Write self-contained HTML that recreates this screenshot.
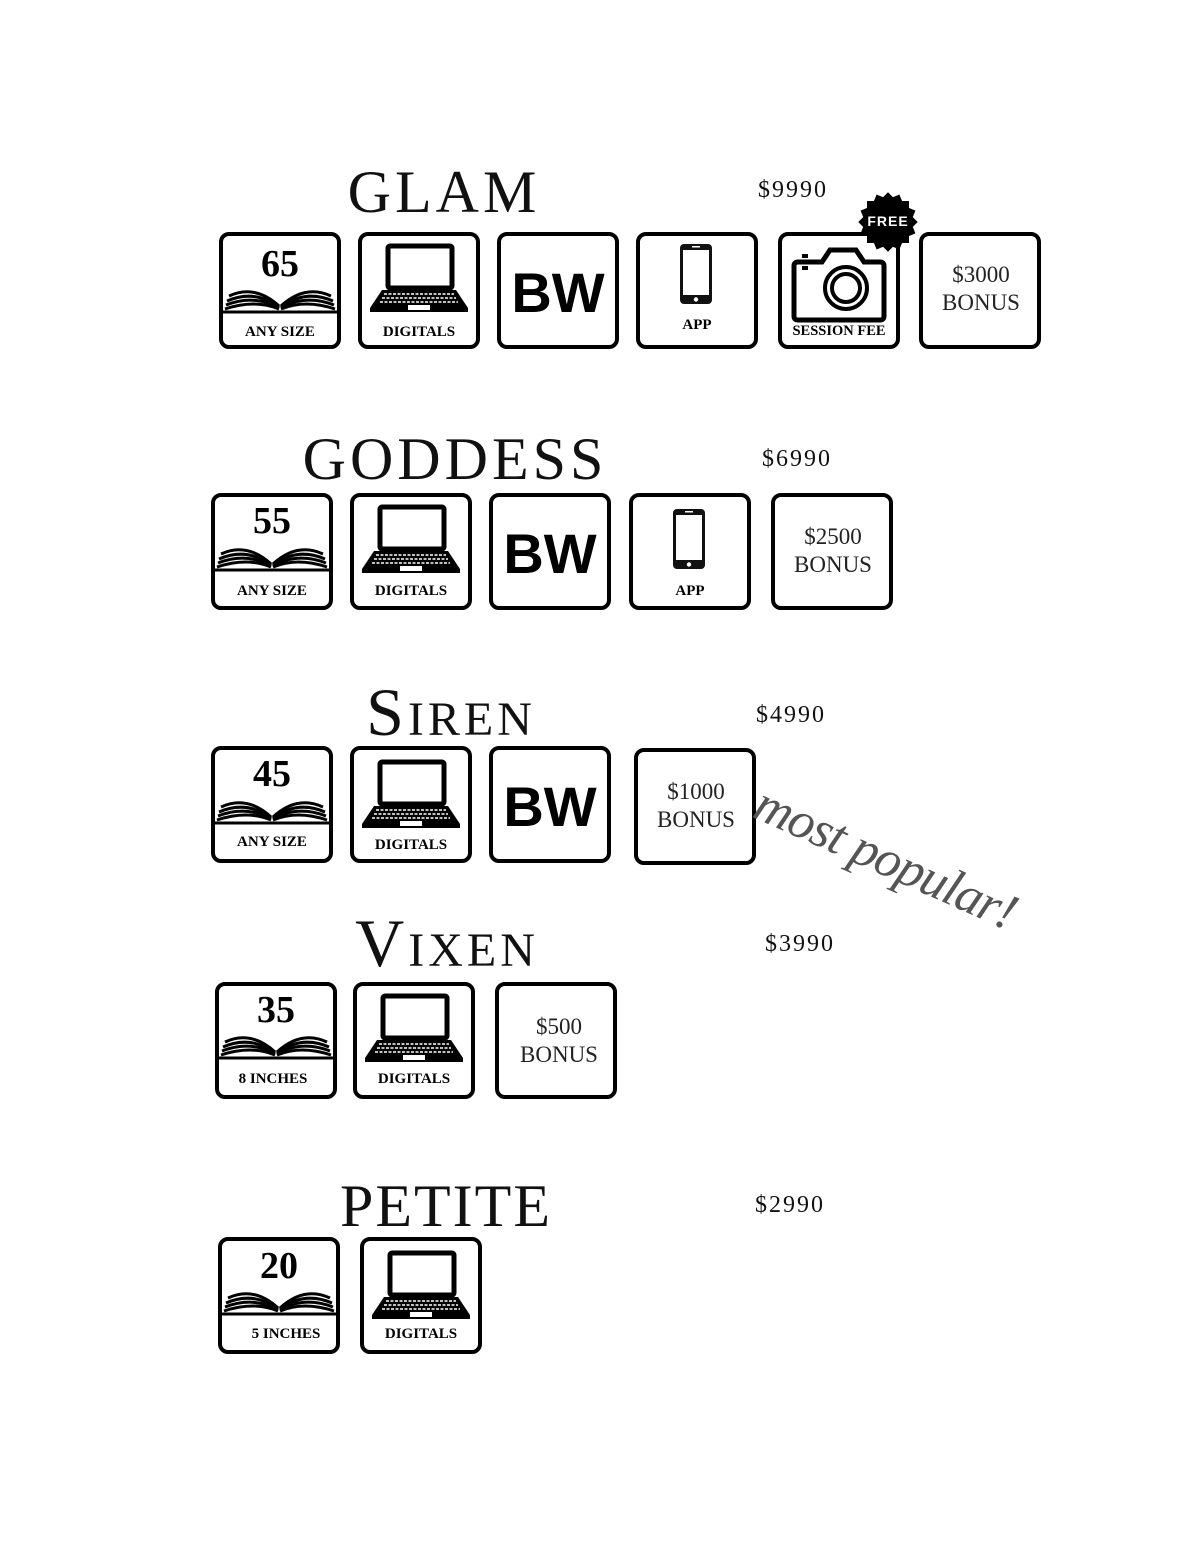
<!DOCTYPE html>
<html><head><meta charset="utf-8"><style>
body{margin:0;background:#fff;}
#p{position:relative;width:1200px;height:1553px;background:#fff;overflow:hidden;font-family:"Liberation Serif",serif;}
.t{position:absolute;width:600px;text-align:center;font-size:60px;line-height:60px;letter-spacing:4px;color:#111;}
.t2{font-size:68px;line-height:68px;font-variant:small-caps;letter-spacing:4px;}
.pr{position:absolute;font-size:24px;line-height:22px;letter-spacing:2px;color:#111;}
.b{position:absolute;width:122px;height:117px;}
.b svg{width:122px;height:117px;display:block}
.sq{position:absolute;left:867px;top:201px;width:42px;height:42px;background:#000;}
</style></head><body><div id="p">
<svg width="0" height="0" style="position:absolute">
<defs>
<g id="frame"><rect x="2" y="2" width="118" height="113" rx="8" fill="#fff" stroke="#000" stroke-width="4"/></g>
<g id="book" fill="none" stroke="#000" stroke-width="3">
<path d="M60,74 Q36,52 10,64"/><path d="M60,75 Q36,57 8,69"/><path d="M60,76 Q36,62 7,73"/><path d="M60,77 Q36,67 6,77"/>
<path d="M62,74 Q86,52 112,64"/><path d="M62,75 Q86,57 114,69"/><path d="M62,76 Q86,62 115,73"/><path d="M62,77 Q86,67 116,77"/>
<line x1="2" y1="80" x2="120" y2="80"/>
</g>
<g id="laptop">
<rect x="30" y="14" width="64" height="42" rx="2" fill="none" stroke="#000" stroke-width="5"/>
<polygon points="24,58 98,58 110,76 12,76" fill="#000"/>
<rect x="12" y="76" width="98" height="4" fill="#000"/>
<g stroke="#fff" stroke-width="1.5" stroke-dasharray="3 1.5"><line x1="26" y1="62" x2="96" y2="62"/><line x1="24" y1="66" x2="98" y2="66"/><line x1="22" y1="70" x2="100" y2="70"/></g>
<rect x="50" y="73" width="22" height="5" fill="#fff"/>
</g>
<g id="phone"><rect x="44" y="12" width="32" height="60" rx="4" fill="#111"/><rect x="47" y="18" width="26" height="45" fill="#fff"/><circle cx="60" cy="67.5" r="2.2" fill="#fff"/><rect x="56" y="14" width="8" height="1.5" fill="#fff"/></g>
</defs></svg>

<div class="t" style="left:144px;top:162px">GLAM</div>
<div class="t" style="left:155px;top:429px">GODDESS</div>
<div class="t t2" style="left:151px;top:678px">Siren</div>
<div class="t t2" style="left:147px;top:909px">Vixen</div>
<div class="t" style="left:146px;top:1176px;letter-spacing:2px">PETITE</div>

<div class="pr" style="left:758px;top:179px">$9990</div>
<div class="pr" style="left:762px;top:448px">$6990</div>
<div class="pr" style="left:756px;top:704px">$4990</div>
<div class="pr" style="left:765px;top:933px">$3990</div>
<div class="pr" style="left:755px;top:1194px">$2990</div>

<!-- GLAM row -->
<div class="b" style="left:219px;top:232px"><svg viewBox="0 0 122 117"><use href="#frame"/><text x="61" y="44" text-anchor="middle" font-size="38" font-weight="bold" font-family="Liberation Serif">65</text><use href="#book"/><text x="61" y="104" text-anchor="middle" font-size="15" font-weight="bold" font-family="Liberation Serif">ANY SIZE</text></svg></div>
<div class="b" style="left:358px;top:232px"><svg viewBox="0 0 122 117"><use href="#frame"/><use href="#laptop"/><text x="61" y="104" text-anchor="middle" font-size="15" font-weight="bold" font-family="Liberation Serif">DIGITALS</text></svg></div>
<div class="b" style="left:497px;top:232px"><svg viewBox="0 0 122 117"><use href="#frame"/><text x="61" y="80" text-anchor="middle" font-size="56" font-weight="bold" font-family="Liberation Sans">BW</text></svg></div>
<div class="b" style="left:636px;top:232px"><svg viewBox="0 0 122 117"><use href="#frame"/><use href="#phone"/><text x="61" y="97" text-anchor="middle" font-size="15" font-weight="bold" font-family="Liberation Serif">APP</text></svg></div>
<div class="b" style="left:778px;top:232px"><svg viewBox="0 0 122 117"><use href="#frame"/>
<path d="M20,30 H44 L52,18 H78 L86,30 H102 Q106,30 106,34 V84 Q106,88 102,88 H20 Q16,88 16,84 V34 Q16,30 20,30 Z" fill="none" stroke="#000" stroke-width="5"/>
<circle cx="68" cy="56" r="21" fill="none" stroke="#000" stroke-width="4"/><circle cx="68" cy="56" r="14" fill="none" stroke="#000" stroke-width="4"/>
<line x1="24" y1="24" x2="30" y2="24" stroke="#000" stroke-width="4"/><line x1="24" y1="36" x2="30" y2="36" stroke="#000" stroke-width="4"/>
<text x="61" y="103" text-anchor="middle" font-size="14.5" font-weight="bold" font-family="Liberation Serif">SESSION FEE</text></svg></div>
<div class="sq"></div><div class="sq" style="transform:rotate(22.5deg)"></div><div class="sq" style="transform:rotate(45deg)"></div><div class="sq" style="transform:rotate(67.5deg)"></div>
<div style="position:absolute;left:858px;top:213px;width:60px;text-align:center;color:#fff;font-family:'Liberation Sans',sans-serif;font-weight:bold;font-size:14px;line-height:16px;letter-spacing:1px">FREE</div>
<div class="b" style="left:919px;top:232px"><svg viewBox="0 0 122 117"><use href="#frame"/><text x="62" y="50" text-anchor="middle" font-size="23" font-family="Liberation Serif" fill="#222">$3000</text><text x="62" y="78" text-anchor="middle" font-size="23" font-family="Liberation Serif" fill="#222">BONUS</text></svg></div>

<!-- GODDESS -->
<div class="b" style="left:211px;top:493px"><svg viewBox="0 0 122 117"><use href="#frame"/><text x="61" y="40" text-anchor="middle" font-size="38" font-weight="bold" font-family="Liberation Serif">55</text><use href="#book" transform="translate(0,-3)"/><text x="61" y="102" text-anchor="middle" font-size="15" font-weight="bold" font-family="Liberation Serif">ANY SIZE</text></svg></div>
<div class="b" style="left:350px;top:493px"><svg viewBox="0 0 122 117"><use href="#frame"/><use href="#laptop"/><text x="61" y="102" text-anchor="middle" font-size="15" font-weight="bold" font-family="Liberation Serif">DIGITALS</text></svg></div>
<div class="b" style="left:489px;top:493px"><svg viewBox="0 0 122 117"><use href="#frame"/><text x="61" y="80" text-anchor="middle" font-size="56" font-weight="bold" font-family="Liberation Sans">BW</text></svg></div>
<div class="b" style="left:629px;top:493px"><svg viewBox="0 0 122 117"><use href="#frame"/><use href="#phone" transform="translate(0,4)"/><text x="61" y="102" text-anchor="middle" font-size="15" font-weight="bold" font-family="Liberation Serif">APP</text></svg></div>
<div class="b" style="left:771px;top:493px"><svg viewBox="0 0 122 117"><use href="#frame"/><text x="62" y="51" text-anchor="middle" font-size="23" font-family="Liberation Serif" fill="#222">$2500</text><text x="62" y="79" text-anchor="middle" font-size="23" font-family="Liberation Serif" fill="#222">BONUS</text></svg></div>

<!-- SIREN -->
<div class="b" style="left:211px;top:746px"><svg viewBox="0 0 122 117"><use href="#frame"/><text x="61" y="40" text-anchor="middle" font-size="38" font-weight="bold" font-family="Liberation Serif">45</text><use href="#book" transform="translate(0,-3)"/><text x="61" y="100" text-anchor="middle" font-size="15" font-weight="bold" font-family="Liberation Serif">ANY SIZE</text></svg></div>
<div class="b" style="left:350px;top:746px"><svg viewBox="0 0 122 117"><use href="#frame"/><use href="#laptop" transform="translate(0,2)"/><text x="61" y="103" text-anchor="middle" font-size="15" font-weight="bold" font-family="Liberation Serif">DIGITALS</text></svg></div>
<div class="b" style="left:489px;top:746px"><svg viewBox="0 0 122 117"><use href="#frame"/><text x="61" y="80" text-anchor="middle" font-size="56" font-weight="bold" font-family="Liberation Sans">BW</text></svg></div>
<div class="b" style="left:634px;top:748px"><svg viewBox="0 0 122 117"><use href="#frame"/><text x="62" y="51" text-anchor="middle" font-size="23" font-family="Liberation Serif" fill="#222">$1000</text><text x="62" y="79" text-anchor="middle" font-size="23" font-family="Liberation Serif" fill="#222">BONUS</text></svg></div>
<div style="position:absolute;left:768px;top:778px;font-family:'Liberation Serif',serif;font-style:italic;font-size:52px;line-height:52px;color:#555;transform:rotate(24deg);transform-origin:0 0;letter-spacing:-1px">most popular!</div>

<!-- VIXEN -->
<div class="b" style="left:215px;top:982px"><svg viewBox="0 0 122 117"><use href="#frame"/><text x="61" y="40" text-anchor="middle" font-size="38" font-weight="bold" font-family="Liberation Serif">35</text><use href="#book" transform="translate(0,-4)"/><text x="58" y="101" text-anchor="middle" font-size="15" font-weight="bold" font-family="Liberation Serif">8 INCHES</text></svg></div>
<div class="b" style="left:353px;top:982px"><svg viewBox="0 0 122 117"><use href="#frame"/><use href="#laptop"/><text x="61" y="101" text-anchor="middle" font-size="15" font-weight="bold" font-family="Liberation Serif">DIGITALS</text></svg></div>
<div class="b" style="left:495px;top:982px"><svg viewBox="0 0 122 117"><use href="#frame"/><text x="64" y="52" text-anchor="middle" font-size="23" font-family="Liberation Serif" fill="#222">$500</text><text x="64" y="80" text-anchor="middle" font-size="23" font-family="Liberation Serif" fill="#222">BONUS</text></svg></div>

<!-- PETITE -->
<div class="b" style="left:218px;top:1237px"><svg viewBox="0 0 122 117"><use href="#frame"/><text x="61" y="41" text-anchor="middle" font-size="38" font-weight="bold" font-family="Liberation Serif">20</text><use href="#book" transform="translate(0,-3)"/><text x="68" y="101" text-anchor="middle" font-size="15" font-weight="bold" font-family="Liberation Serif">5 INCHES</text></svg></div>
<div class="b" style="left:360px;top:1237px"><svg viewBox="0 0 122 117"><use href="#frame"/><use href="#laptop" transform="translate(0,2)"/><text x="61" y="101" text-anchor="middle" font-size="15" font-weight="bold" font-family="Liberation Serif">DIGITALS</text></svg></div>
</div></body></html>
